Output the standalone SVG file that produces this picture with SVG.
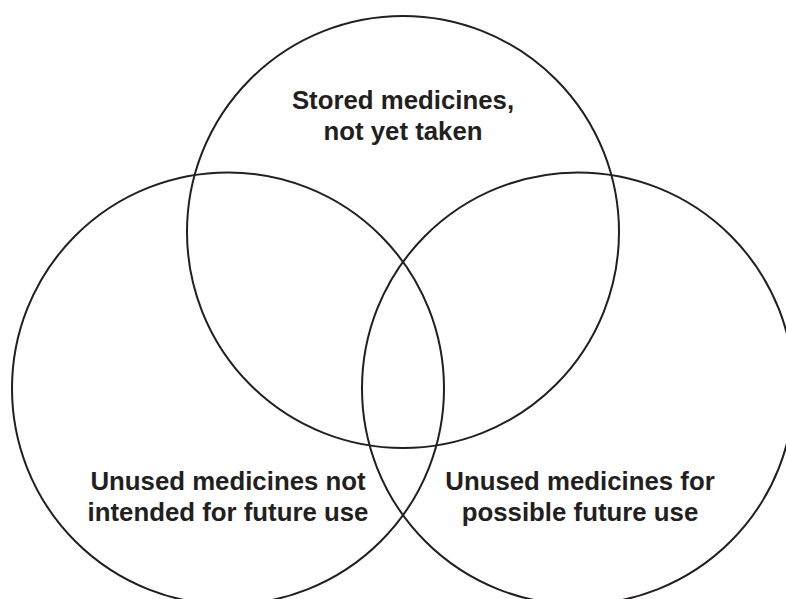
<svg xmlns="http://www.w3.org/2000/svg" width="786" height="599" viewBox="0 0 786 599">
<style>
.c{fill:none;stroke:#231f20;stroke-width:2}
.t{font-family:"Liberation Sans",Arial,sans-serif;font-weight:bold;font-size:25.8px;fill:#231f20;text-anchor:middle}
</style>
<rect width="786" height="599" fill="#ffffff"/>
<g id="stored">
<circle class="c" cx="403" cy="232" r="216"/>
<text class="t" x="403" y="109">Stored medicines,</text>
<text class="t" x="403" y="140">not yet taken</text>
</g>
<g id="not-intended">
<circle class="c" cx="228" cy="388.5" r="216"/>
<text class="t" x="228" y="490">Unused medicines not</text>
<text class="t" x="228" y="521">intended for future use</text>
</g>
<g id="possible">
<circle class="c" cx="578" cy="388.5" r="216"/>
<text class="t" x="580" y="490">Unused medicines for</text>
<text class="t" x="580" y="521">possible future use</text>
</g>
<g id="connectors"/>
</svg>
